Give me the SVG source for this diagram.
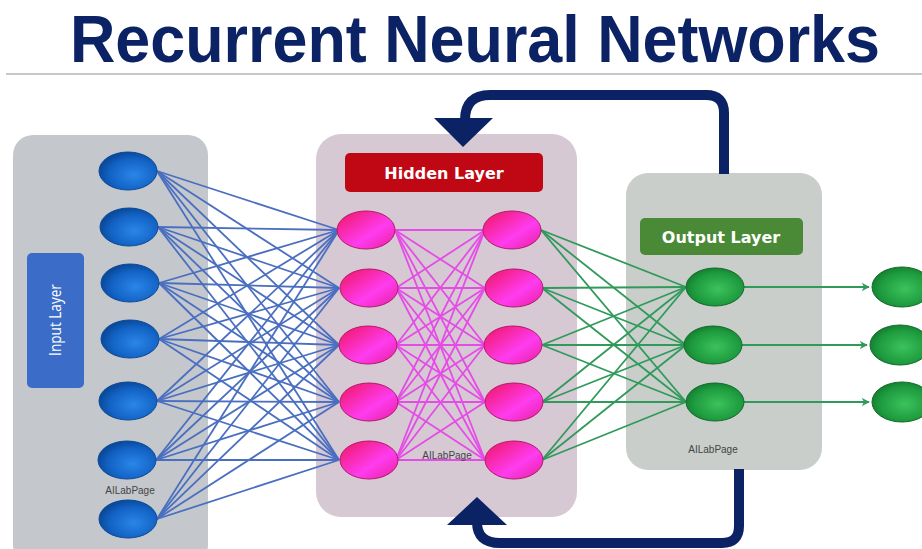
<svg xmlns="http://www.w3.org/2000/svg" width="922" height="549" viewBox="0 0 922 549">
<defs>
<radialGradient id="gBlue" cx="0.6" cy="0.6" r="0.6">
<stop offset="0" stop-color="#2a86e8"/><stop offset="0.7" stop-color="#1262c4"/><stop offset="1" stop-color="#0a4a9c"/>
</radialGradient>
<linearGradient id="gPink" x1="0" y1="0" x2="1" y2="1">
<stop offset="0" stop-color="#f0145e"/><stop offset="0.6" stop-color="#ff3cf0"/><stop offset="1" stop-color="#e81e9a"/>
</linearGradient>
<radialGradient id="gGreen" cx="0.55" cy="0.55" r="0.6">
<stop offset="0" stop-color="#3cc25c"/><stop offset="0.7" stop-color="#1d9a3e"/><stop offset="1" stop-color="#137a2e"/>
</radialGradient>
<marker id="ah" viewBox="0 0 10 10" refX="9" refY="5" markerWidth="4.5" markerHeight="4.5" orient="auto" markerUnits="strokeWidth">
<path d="M0,0 L10,5 L0,10 L3,5 z" fill="#2f9a5a"/>
</marker>
<style>
.title{font-family:"Liberation Sans",Arial,sans-serif;font-weight:bold;font-size:66px;fill:#0b2265}
.lbl{font-family:"DejaVu Sans","Open Sans",sans-serif;font-weight:bold;fill:#ffffff}
.wm{font-family:"Liberation Sans",Arial,sans-serif;font-size:10px;fill:#444;text-anchor:middle}
.nb{fill:url(#gBlue);stroke:#0b4a94;stroke-width:1}
.np{fill:url(#gPink);stroke:#b01a6a;stroke-width:1}
.ng{fill:url(#gGreen);stroke:#126a2a;stroke-width:1}
.cb{stroke:#4a6fc0;stroke-width:1.8}
.cp{stroke:#e54ce6;stroke-width:1.8}
.cg{stroke:#2f9a5a;stroke-width:1.8}
.loop{fill:none;stroke:#0b2265;stroke-width:10}
</style>
</defs>
<rect width="922" height="549" fill="#ffffff"/>
<text class="title" x="70" y="62" textLength="810" lengthAdjust="spacingAndGlyphs">Recurrent Neural Networks</text>
<line x1="6" y1="74" x2="922" y2="74" stroke="#c8c8c8" stroke-width="2"/>

<g id="input-layer">
<rect x="13" y="135" width="195" height="430" rx="20" fill="#c4c8cd"/>
<rect x="27" y="253" width="57" height="135" rx="5" fill="#3a6cc8"/>
<text x="0" y="0" font-family="'Open Sans','DejaVu Sans',sans-serif" font-size="16" fill="#ffffff" text-anchor="middle" transform="translate(61,320) rotate(-90) scale(0.85,1)">Input Layer</text>
<text class="wm" x="130" y="494">AILabPage</text>
</g>
<g id="hidden-layer">
<rect x="316" y="134" width="261" height="383" rx="25" fill="#d6c9d4"/>
<rect x="345" y="153" width="198" height="39" rx="5" fill="#c00814"/>
<text class="lbl" x="444" y="179" font-size="16" text-anchor="middle">Hidden Layer</text>
</g>
<g id="output-layer">
<rect x="626" y="173" width="196" height="297" rx="22" fill="#c9cecb"/>
<rect x="640" y="218" width="163" height="37" rx="5" fill="#4a8a36"/>
<text class="lbl" x="721" y="243" font-size="16" text-anchor="middle">Output Layer</text>
<text class="wm" x="713" y="453">AILabPage</text>
</g>

<g id="loop-top">
<path class="loop" d="M724,174 L724,113 Q724,95 706,95 L490,95 Q465,95 465,120"/>
<polygon points="434,118 493,118 463,147" fill="#0b2265"/>
</g>
<g id="loop-bottom">
<path class="loop" d="M739,469 L739,526 Q739,543 722,543 L500,543 Q477,543 477,522"/>
<polygon points="447,525 507,525 477,497" fill="#0b2265"/>
</g>

<g id="connectors">
<line class="cb" x1="157" y1="171" x2="339" y2="230"/><line class="cb" x1="157" y1="171" x2="339" y2="288"/><line class="cb" x1="157" y1="171" x2="339" y2="345"/><line class="cb" x1="157" y1="171" x2="339" y2="402"/><line class="cb" x1="157" y1="171" x2="339" y2="460"/>
<line class="cb" x1="158" y1="227" x2="339" y2="230"/><line class="cb" x1="158" y1="227" x2="339" y2="288"/><line class="cb" x1="158" y1="227" x2="339" y2="345"/><line class="cb" x1="158" y1="227" x2="339" y2="402"/><line class="cb" x1="158" y1="227" x2="339" y2="460"/>
<line class="cb" x1="159" y1="283" x2="339" y2="230"/><line class="cb" x1="159" y1="283" x2="339" y2="288"/><line class="cb" x1="159" y1="283" x2="339" y2="345"/><line class="cb" x1="159" y1="283" x2="339" y2="402"/><line class="cb" x1="159" y1="283" x2="339" y2="460"/>
<line class="cb" x1="159" y1="339" x2="339" y2="230"/><line class="cb" x1="159" y1="339" x2="339" y2="288"/><line class="cb" x1="159" y1="339" x2="339" y2="345"/><line class="cb" x1="159" y1="339" x2="339" y2="402"/><line class="cb" x1="159" y1="339" x2="339" y2="460"/>
<line class="cb" x1="157" y1="401" x2="339" y2="230"/><line class="cb" x1="157" y1="401" x2="339" y2="288"/><line class="cb" x1="157" y1="401" x2="339" y2="345"/><line class="cb" x1="157" y1="401" x2="339" y2="402"/><line class="cb" x1="157" y1="401" x2="339" y2="460"/>
<line class="cb" x1="156" y1="460" x2="339" y2="230"/><line class="cb" x1="156" y1="460" x2="339" y2="288"/><line class="cb" x1="156" y1="460" x2="339" y2="345"/><line class="cb" x1="156" y1="460" x2="339" y2="402"/><line class="cb" x1="156" y1="460" x2="339" y2="460"/>
<line class="cb" x1="157" y1="519" x2="339" y2="230"/><line class="cb" x1="157" y1="519" x2="339" y2="288"/><line class="cb" x1="157" y1="519" x2="339" y2="345"/><line class="cb" x1="157" y1="519" x2="339" y2="402"/><line class="cb" x1="157" y1="519" x2="339" y2="460"/>

<line class="cp" x1="395" y1="230" x2="485" y2="230"/><line class="cp" x1="395" y1="230" x2="485" y2="288"/><line class="cp" x1="395" y1="230" x2="485" y2="345"/><line class="cp" x1="395" y1="230" x2="485" y2="402"/><line class="cp" x1="395" y1="230" x2="485" y2="460"/>
<line class="cp" x1="396" y1="288" x2="485" y2="230"/><line class="cp" x1="396" y1="288" x2="485" y2="288"/><line class="cp" x1="396" y1="288" x2="485" y2="345"/><line class="cp" x1="396" y1="288" x2="485" y2="402"/><line class="cp" x1="396" y1="288" x2="485" y2="460"/>
<line class="cp" x1="396" y1="345" x2="485" y2="230"/><line class="cp" x1="396" y1="345" x2="485" y2="288"/><line class="cp" x1="396" y1="345" x2="485" y2="345"/><line class="cp" x1="396" y1="345" x2="485" y2="402"/><line class="cp" x1="396" y1="345" x2="485" y2="460"/>
<line class="cp" x1="396" y1="402" x2="485" y2="230"/><line class="cp" x1="396" y1="402" x2="485" y2="288"/><line class="cp" x1="396" y1="402" x2="485" y2="345"/><line class="cp" x1="396" y1="402" x2="485" y2="402"/><line class="cp" x1="396" y1="402" x2="485" y2="460"/>
<line class="cp" x1="396" y1="460" x2="485" y2="230"/><line class="cp" x1="396" y1="460" x2="485" y2="288"/><line class="cp" x1="396" y1="460" x2="485" y2="345"/><line class="cp" x1="396" y1="460" x2="485" y2="402"/><line class="cp" x1="396" y1="460" x2="485" y2="460"/>

<line class="cg" x1="541" y1="230" x2="686" y2="287"/><line class="cg" x1="541" y1="230" x2="686" y2="345"/><line class="cg" x1="541" y1="230" x2="686" y2="402"/>
<line class="cg" x1="542" y1="288" x2="686" y2="287"/><line class="cg" x1="542" y1="288" x2="686" y2="345"/><line class="cg" x1="542" y1="288" x2="686" y2="402"/>
<line class="cg" x1="542" y1="345" x2="686" y2="287"/><line class="cg" x1="542" y1="345" x2="686" y2="345"/><line class="cg" x1="542" y1="345" x2="686" y2="402"/>
<line class="cg" x1="542" y1="402" x2="686" y2="287"/><line class="cg" x1="542" y1="402" x2="686" y2="345"/><line class="cg" x1="542" y1="402" x2="686" y2="402"/>
<line class="cg" x1="542" y1="460" x2="686" y2="287"/><line class="cg" x1="542" y1="460" x2="686" y2="345"/><line class="cg" x1="542" y1="460" x2="686" y2="402"/>

<line class="cg" x1="744" y1="287" x2="869" y2="287" marker-end="url(#ah)"/>
<line class="cg" x1="742" y1="345" x2="867" y2="345" marker-end="url(#ah)"/>
<line class="cg" x1="744" y1="402" x2="869" y2="402" marker-end="url(#ah)"/>
</g>

<g id="input-nodes">
<g id="in1"><ellipse class="nb" cx="128" cy="171" rx="29" ry="19"/></g>
<g id="in2"><ellipse class="nb" cx="129" cy="227" rx="29" ry="19"/></g>
<g id="in3"><ellipse class="nb" cx="130" cy="283" rx="29" ry="19"/></g>
<g id="in4"><ellipse class="nb" cx="130" cy="339" rx="29" ry="19"/></g>
<g id="in5"><ellipse class="nb" cx="128" cy="401" rx="29" ry="19"/></g>
<g id="in6"><ellipse class="nb" cx="127" cy="460" rx="29" ry="19"/></g>
<g id="in7"><ellipse class="nb" cx="128" cy="519" rx="29" ry="19"/></g>
</g>
<g id="hidden-nodes">
<g id="h1a"><ellipse class="np" cx="366" cy="230" rx="29" ry="19"/></g>
<g id="h1b"><ellipse class="np" cx="369" cy="288" rx="29" ry="19"/></g>
<g id="h1c"><ellipse class="np" cx="368" cy="345" rx="29" ry="19"/></g>
<g id="h1d"><ellipse class="np" cx="369" cy="402" rx="29" ry="19"/></g>
<g id="h1e"><ellipse class="np" cx="369" cy="460" rx="29" ry="19"/></g>
<g id="h2a"><ellipse class="np" cx="512" cy="230" rx="29" ry="19"/></g>
<g id="h2b"><ellipse class="np" cx="514" cy="288" rx="29" ry="19"/></g>
<g id="h2c"><ellipse class="np" cx="513" cy="345" rx="29" ry="19"/></g>
<g id="h2d"><ellipse class="np" cx="514" cy="402" rx="29" ry="19"/></g>
<g id="h2e"><ellipse class="np" cx="514" cy="460" rx="29" ry="19"/></g>
<text class="wm" x="447" y="459">AILabPage</text>
</g>
<g id="output-nodes">
<g id="o1"><ellipse class="ng" cx="715" cy="287" rx="29" ry="19"/></g>
<g id="o2"><ellipse class="ng" cx="713" cy="345" rx="29" ry="19"/></g>
<g id="o3"><ellipse class="ng" cx="715" cy="402" rx="29" ry="19"/></g>
</g>
<g id="final-nodes">
<g id="f1"><ellipse class="ng" cx="902" cy="287" rx="30" ry="20"/></g>
<g id="f2"><ellipse class="ng" cx="900" cy="345" rx="30" ry="20"/></g>
<g id="f3"><ellipse class="ng" cx="902" cy="402" rx="30" ry="20"/></g>
</g>
</svg>
